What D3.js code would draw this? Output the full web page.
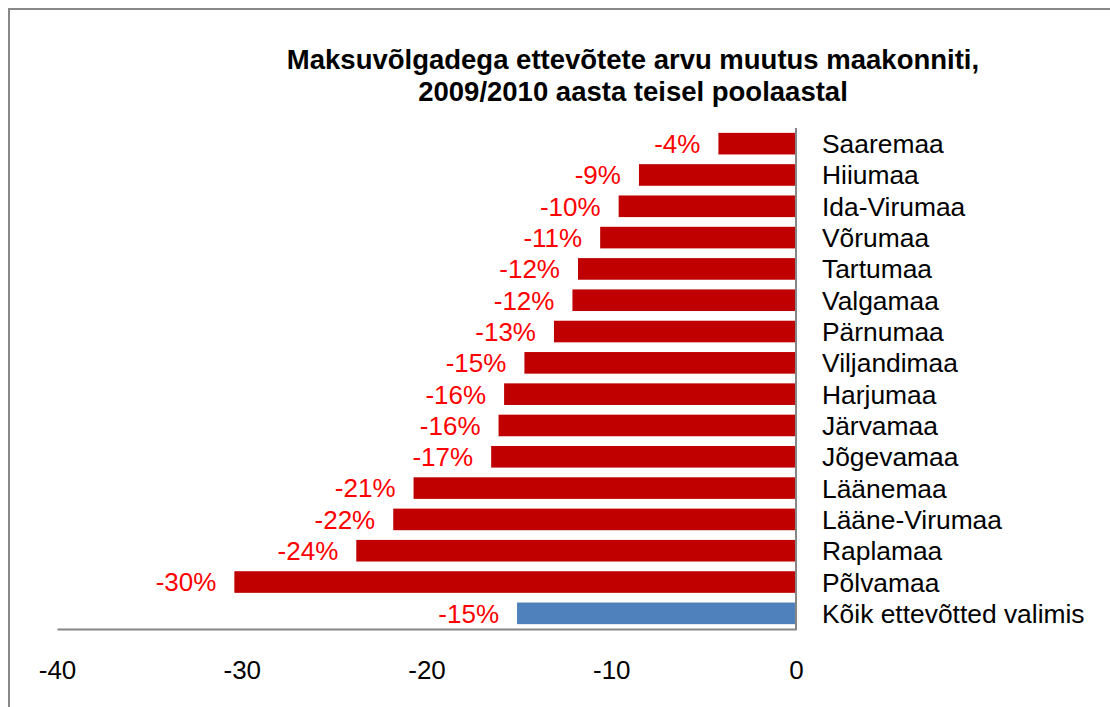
<!DOCTYPE html>
<html>
<head>
<meta charset="UTF-8">
<title>Maksuvõlgadega ettevõtete arvu muutus</title>
<script src="https://cdn.jsdelivr.net/npm/d3@7"></script>
<style>
body { margin: 0; background: #fff; }
text { font-family: "Liberation Sans", Arial, sans-serif; }
</style>
</head>
<body>
<svg width="1110" height="707"></svg>
<script>
// maakonnad ylevalt alla
var categories = ["Saaremaa", "Hiiumaa", "Ida-Virumaa", "Võrumaa", "Tartumaa", "Valgamaa",
  "Pärnumaa", "Viljandimaa", "Harjumaa", "Järvamaa", "Jõgevamaa", "Läänemaa",
  "Lääne-Virumaa", "Raplamaa", "Põlvamaa", "Kõik ettevõtted valimis"];
var values = [-4.2, -8.5, -9.6, -10.6, -11.8, -12.1, -13.1, -14.7, -15.8, -16.1, -16.5,
  -20.7, -21.8, -23.8, -30.4, -15.1];
var labels = ["-4%", "-9%", "-10%", "-11%", "-12%", "-12%", "-13%", "-15%", "-16%", "-16%",
  "-17%", "-21%", "-22%", "-24%", "-30%", "-15%"];
var xTicks = [-40, -30, -20, -10, 0];
var titleLines = ["Maksuvõlgadega ettevõtete arvu muutus maakonniti,", "2009/2010 aasta teisel poolaastal"];

var svg = d3.select("svg");

// raam
svg.append("rect")
  .attr("x", 9).attr("y", 9).attr("width", 1110).attr("height", 720)
  .attr("fill", "none").attr("stroke", "#888").attr("stroke-width", 2);

var x = d3.scaleLinear().domain([-40, 0]).range([57, 796]);
var y = d3.scaleBand().domain(categories).range([128, 629]).paddingInner(0.31).paddingOuter(0.155);

// pealkiri
svg.append("g").selectAll("text").data(titleLines).enter().append("text")
  .attr("x", 633)
  .attr("y", function(d, i) { return 69 + i * 32; })
  .attr("text-anchor", "middle")
  .style("font-size", "27.5px")
  .style("font-weight", "bold")
  .text(function(d) { return d; });

var data = categories.map(function(c, i) { return {name: c, v: values[i], lab: labels[i]}; });

svg.append("g").selectAll("rect").data(data).enter().append("rect")
  .attr("x", function(d) { return x(d.v); })
  .attr("y", function(d) { return y(d.name); })
  .attr("width", function(d) { return x(0) - x(d.v); })
  .attr("height", y.bandwidth())
  .attr("fill", function(d, i) { return i == categories.length - 1 ? "#4F81BD" : "#C00000"; });

// vaartuste sildid
svg.append("g").selectAll("text").data(data).enter().append("text")
  .attr("x", function(d) { return x(d.v) - 18; })
  .attr("y", function(d) { return y(d.name) + y.bandwidth() / 2; })
  .attr("dy", "0.36em")
  .attr("text-anchor", "end")
  .style("font-size", "26px")
  .style("fill", "#FF0000")
  .text(function(d) { return d.lab; });

// kategooriate nimed
svg.append("g").selectAll("text").data(data).enter().append("text")
  .attr("x", 822)
  .attr("y", function(d) { return y(d.name) + y.bandwidth() / 2; })
  .attr("dy", "0.36em")
  .style("font-size", "26.4px")
  .style("fill", "#000")
  .text(function(d) { return d.name; });

// x telg
var xAxis = d3.axisBottom(x).tickValues(xTicks).tickSize(0).tickPadding(32).tickFormat(d3.format("d"));
var gx = svg.append("g").attr("transform", "translate(0,629)").call(xAxis);
gx.select(".domain").attr("stroke", "#868686").attr("stroke-width", 2);
gx.selectAll("text").style("font-size", "26px").style("fill", "#000")
  .style("font-family", '"Liberation Sans", Arial, sans-serif')
  .text(function(d) { return d < 0 ? "-" + Math.abs(d) : d; });

// null-joon
svg.append("line")
  .attr("x1", x(0)).attr("x2", x(0))
  .attr("y1", 128).attr("y2", 630)
  .attr("stroke", "#868686").attr("stroke-width", 2);
</script>
</body>
</html>
